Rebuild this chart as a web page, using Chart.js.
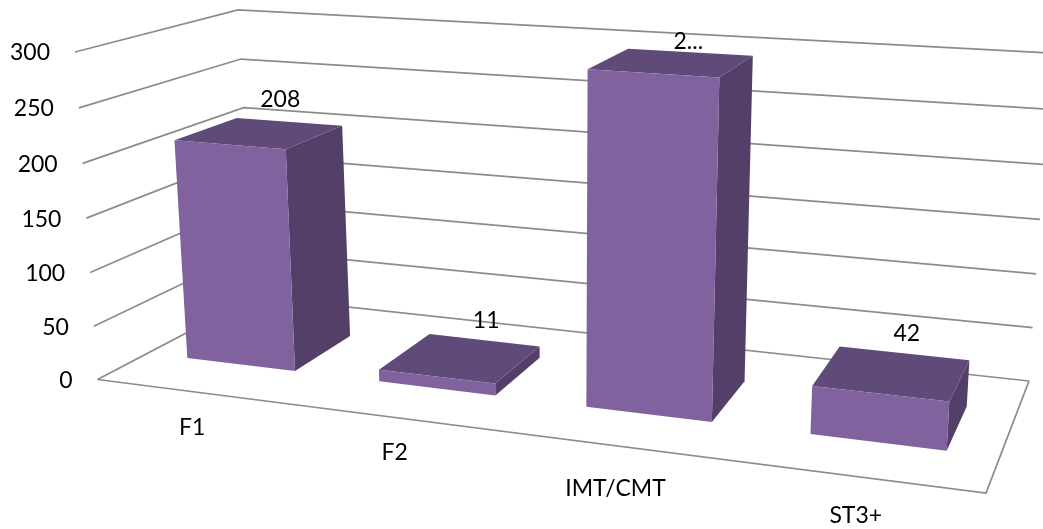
<!DOCTYPE html>
<html>
<head>
<meta charset="utf-8">
<title>Barras 3D</title>
<script src="https://cdn.jsdelivr.net/npm/chart.js@4/dist/chart.umd.js"></script>
<style>
    html, body { margin: 0; padding: 0; background: #fff; }
    canvas { display: block; }
</style>
</head>
<body>
<canvas id="grafico" width="1043" height="529"></canvas>
<script>
const categorias = ["F1", "F2", "IMT/CMT", "ST3+"];
const valores = [208, 11, 298, 42];
const etiquetasValor = ["208", "11", "2...", "42"];
const marcasEje = [0, 50, 100, 150, 200, 250, 300];

// Esquinas de la caja en pantalla: suelo y techo, cara frontal y fondo
const CAJA = {
    sueloFrente: [[97.5, 379.5], [986, 493]],
    sueloFondo: [[255, 297], [1029, 381]],
    techoFrente: [[75, 52], [1008, 113]],
    techoFondo: [[238, 10], [1051, 53]],
};
const FUGA_X = 1.17;
const FUGA_Y = 1.03;
const FONDO_BARRA = [0.32, 0.72];

const COLOR_FRENTE = "#80629e";
const COLOR_TECHO = "#604a7a";
const COLOR_LADO = "#533f68";
const COLOR_LINEA = "#8c8c8c";
const FUENTE = "23px Lato";

// Ajustes finos de los textos, en píxeles
const AJUSTE_CATEGORIA = [[-2, -1], [-4, -2], [-4, 5], [-3, 2]];
const AJUSTE_VALOR = [[21, -34], [26, -38], [17, -21], [15, -40]];

function fuga(t, k) {
    return t / (t + k * (1 - t));
}

function mezcla(a, b, t) {
    return [a[0] + (b[0] - a[0]) * t, a[1] + (b[1] - a[1]) * t];
}

// u, v y z van de 0 a 1: ancho, alto y profundidad de la caja
function proyectar(u, v, z) {
    const tu = fuga(u, FUGA_X);
    const tv = fuga(v, FUGA_Y);
    const frente = mezcla(
        mezcla(CAJA.sueloFrente[0], CAJA.sueloFrente[1], tu),
        mezcla(CAJA.techoFrente[0], CAJA.techoFrente[1], tu), tv);
    const fondo = mezcla(
        mezcla(CAJA.sueloFondo[0], CAJA.sueloFondo[1], tu),
        mezcla(CAJA.techoFondo[0], CAJA.techoFondo[1], tu), tv);
    return mezcla(frente, fondo, z);
}

function relX(chart, px) {
    const s = chart.scales.x;
    return (px - s.left) / s.width;
}

function relY(chart, py) {
    const s = chart.scales.y;
    return (s.bottom - py) / s.height;
}

function cara(ctx, puntos, color) {
    ctx.beginPath();
    puntos.forEach((p, i) => i ? ctx.lineTo(p[0], p[1]) : ctx.moveTo(p[0], p[1]));
    ctx.closePath();
    ctx.fillStyle = color;
    ctx.fill();
}

function linea(ctx, puntos) {
    ctx.beginPath();
    puntos.forEach((p, i) => i ? ctx.lineTo(p[0], p[1]) : ctx.moveTo(p[0], p[1]));
    ctx.stroke();
}

class Cubo3D extends Chart.BarElement {
    static id = "cubo3d";

    draw(ctx) {
        const chart = this.grafico;
        const { x, y, base, width } = this.getProps(["x", "y", "base", "width"]);
        const u0 = relX(chart, x - width / 2);
        const u1 = relX(chart, x + width / 2);
        const v0 = relY(chart, base);
        const v1 = relY(chart, y);
        const [z0, z1] = FONDO_BARRA;

        ctx.save();
        cara(ctx, [proyectar(u1, v0, z0), proyectar(u1, v0, z1), proyectar(u1, v1, z1), proyectar(u1, v1, z0)], COLOR_LADO);
        cara(ctx, [proyectar(u0, v1, z0), proyectar(u1, v1, z0), proyectar(u1, v1, z1), proyectar(u0, v1, z1)], COLOR_TECHO);
        cara(ctx, [proyectar(u0, v0, z0), proyectar(u1, v0, z0), proyectar(u1, v1, z0), proyectar(u0, v1, z0)], this.options.backgroundColor);
        ctx.restore();
    }
}

class Barras3D extends Chart.BarController {
    static id = "barras3d";
    static defaults = { dataElementType: "cubo3d" };

    draw() {
        this.getMeta().data.forEach((barra) => { barra.grafico = this.chart; });
        super.draw();
    }
}

Chart.register(Cubo3D, Barras3D);

// Paredes, suelo y rejilla, por debajo de las barras
const paredes = {
    id: "paredes",
    beforeDatasetsDraw(chart) {
        const { ctx } = chart;
        ctx.save();
        ctx.strokeStyle = COLOR_LINEA;
        ctx.lineWidth = 1.75;
        chart.scales.y.ticks.forEach((t) => {
            const v = relY(chart, chart.scales.y.getPixelForValue(t.value));
            linea(ctx, [proyectar(0, v, 0), proyectar(0, v, 1), proyectar(1, v, 1)]);
        });
        linea(ctx, [proyectar(0, 0, 0), proyectar(1, 0, 0), proyectar(1, 0, 1)]);
        ctx.restore();
    },
};

// Textos de ejes y valores, colocados sobre la proyección
const textos = {
    id: "textos",
    afterDatasetsDraw(chart) {
        const { ctx } = chart;
        const ejeX = chart.scales.x;
        const ejeY = chart.scales.y;
        ctx.save();
        ctx.font = FUENTE;
        ctx.fillStyle = "#000";
        ctx.textBaseline = "middle";

        ctx.textAlign = "right";
        ejeY.ticks.forEach((t) => {
            const p = proyectar(0, relY(chart, ejeY.getPixelForValue(t.value)), 0);
            ctx.fillText(t.label, p[0] - 25, p[1] + 1);
        });

        ctx.textAlign = "center";
        ejeX.getLabels().forEach((nombre, i) => {
            const p = proyectar(relX(chart, ejeX.getPixelForValue(i)), 0, 0);
            ctx.fillText(nombre, p[0] + AJUSTE_CATEGORIA[i][0], p[1] + 37 + AJUSTE_CATEGORIA[i][1]);
        });

        chart.getDatasetMeta(0).data.forEach((barra, i) => {
            const p = proyectar(relX(chart, barra.x), relY(chart, barra.y), (FONDO_BARRA[0] + FONDO_BARRA[1]) / 2);
            ctx.fillText(etiquetasValor[i], p[0] + AJUSTE_VALOR[i][0], p[1] + AJUSTE_VALOR[i][1]);
        });
        ctx.restore();
    },
};

new Chart(document.getElementById("grafico"), {
    type: "barras3d",
    data: {
        labels: categorias,
        datasets: [{
            data: valores,
            backgroundColor: COLOR_FRENTE,
            categoryPercentage: 1,
            barPercentage: 0.57,
        }],
    },
    options: {
        responsive: false,
        animation: false,
        layout: { padding: 0 },
        plugins: { legend: { display: false }, tooltip: { enabled: false } },
        scales: {
            x: {
                type: "category",
                offset: true,
                grid: { display: false },
                border: { display: false },
                ticks: { display: false },
            },
            y: {
                type: "linear",
                min: 0,
                max: 300,
                afterBuildTicks: (eje) => { eje.ticks = marcasEje.map((v) => ({ value: v })); },
                grid: { display: false },
                border: { display: false },
                ticks: { display: false },
            },
        },
    },
    plugins: [paredes, textos],
});
</script>
</body>
</html>
